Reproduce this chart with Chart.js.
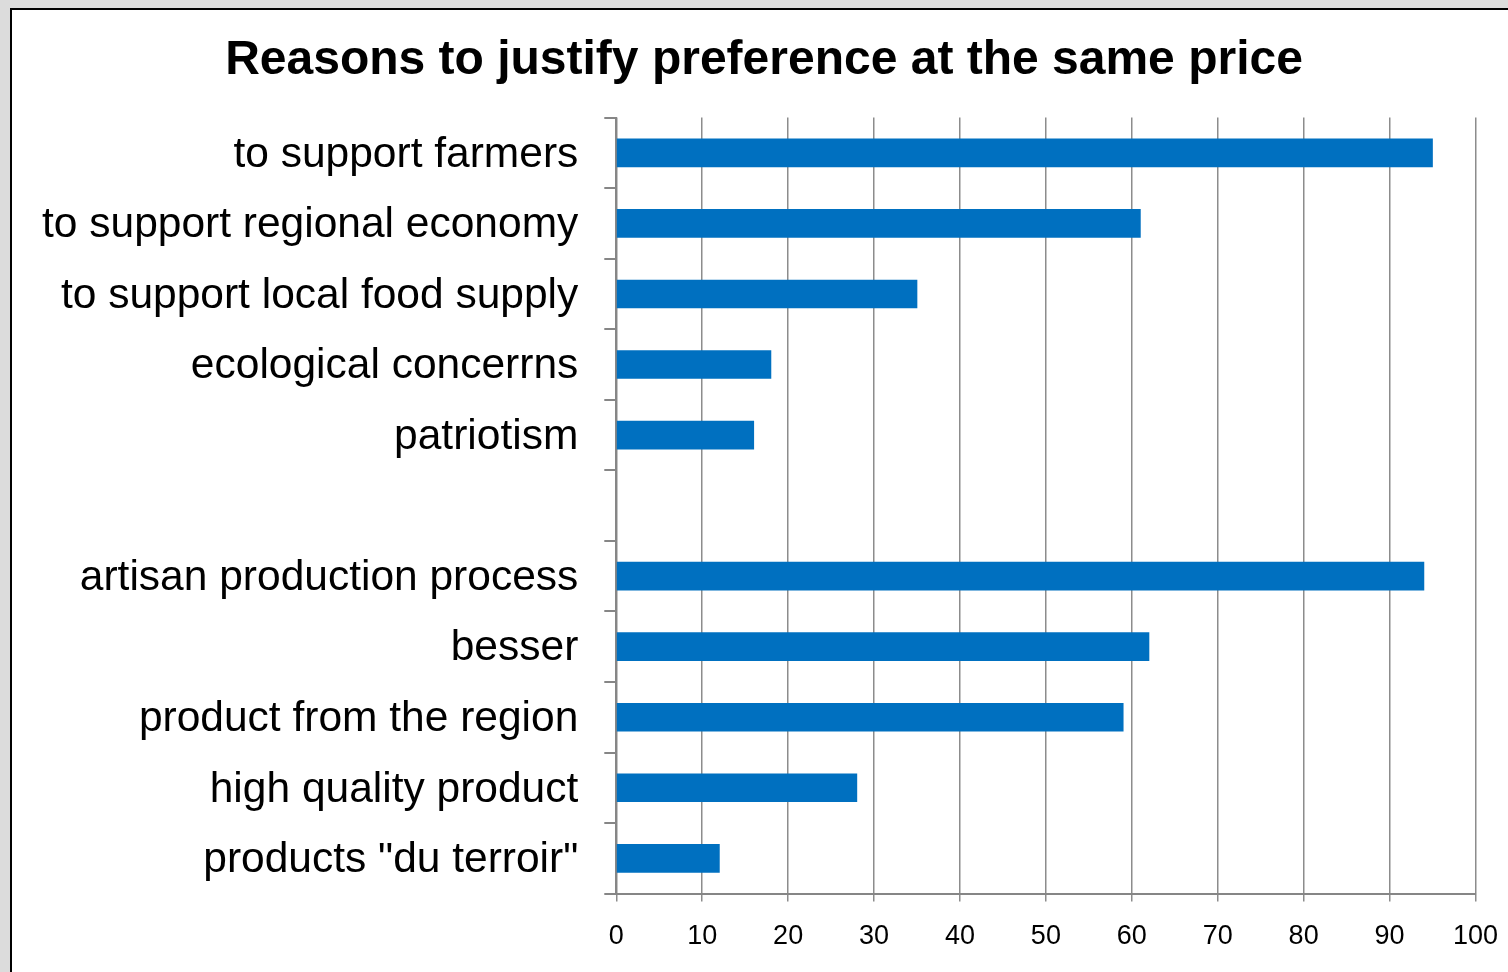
<!DOCTYPE html>
<html>
<head>
<meta charset="utf-8">
<script src="https://cdn.jsdelivr.net/npm/chart.js@4"></script>
<style>
  html, body { margin: 0; padding: 0; background: #dcdcdc; overflow: hidden; }
  #frame {
    position: absolute; left: 10px; top: 8px;
    width: 1540px; height: 1000px;
    background: #fff; border: 2px solid #000;
  }
  #wrap { position: absolute; left: 0; top: 0; width: 1505px; height: 962px; }
</style>
</head>
<body>
<div id="frame">
  <div id="wrap"><canvas id="myChart"></canvas></div>
</div>
<script>
// reasons, top to bottom (blank row splits the two groups)
var reasons = [
    'to support farmers',
    'to support regional economy',
    'to support local food supply',
    'ecological concerrns',
    'patriotism',
    '',
    'artisan production process',
    'besser',
    'product from the region',
    'high quality product',
    'products "du terroir"'
];
var shares = [95, 61, 35, 18, 16, null, 94, 62, 59, 28, 12];
var xTicks = [0, 10, 20, 30, 40, 50, 60, 70, 80, 90, 100];

var ctx = document.getElementById('myChart').getContext('2d');
var myChart = new Chart(ctx, {
    type: 'bar',
    data: {
        labels: reasons,
        datasets: [{
            data: shares,
            backgroundColor: '#0070c0',
            borderWidth: 0,
            barThickness: 28
        }]
    },
    options: {
        indexAxis: 'y',
        responsive: true,
        maintainAspectRatio: false,
        animation: false,
        layout: { padding: { left: 4, right: 5, top: 0, bottom: 0 } },
        plugins: {
            legend: { display: false },
            tooltip: { enabled: false },
            title: {
                display: true,
                text: 'Reasons to justify preference at the same price',
                color: '#000',
                font: { family: 'Liberation Sans', size: 48, weight: 'bold' },
                padding: { top: 22, bottom: 28 }
            }
        },
        scales: {
            x: {
                min: 0,
                max: 100,
                afterBuildTicks: function(axis) {
                    axis.ticks = xTicks.map(function(v) { return { value: v }; });
                },
                grid: { color: '#8c8c8c', lineWidth: 1.5, tickLength: 8 },
                border: { color: '#868686', width: 2 },
                ticks: {
                    color: '#000',
                    padding: 19,
                    maxRotation: 0,
                    font: { family: 'Liberation Sans', size: 27 }
                }
            },
            y: {
                grid: { drawOnChartArea: false, color: '#868686', lineWidth: 2, tickLength: 12, offset: true },
                border: { color: '#868686', width: 2 },
                ticks: {
                    color: '#000',
                    padding: 26,
                    labelOffset: 2,
                    font: { family: 'Liberation Sans', size: 42.5 }
                }
            }
        }
    }
});
</script>
</body>
</html>
